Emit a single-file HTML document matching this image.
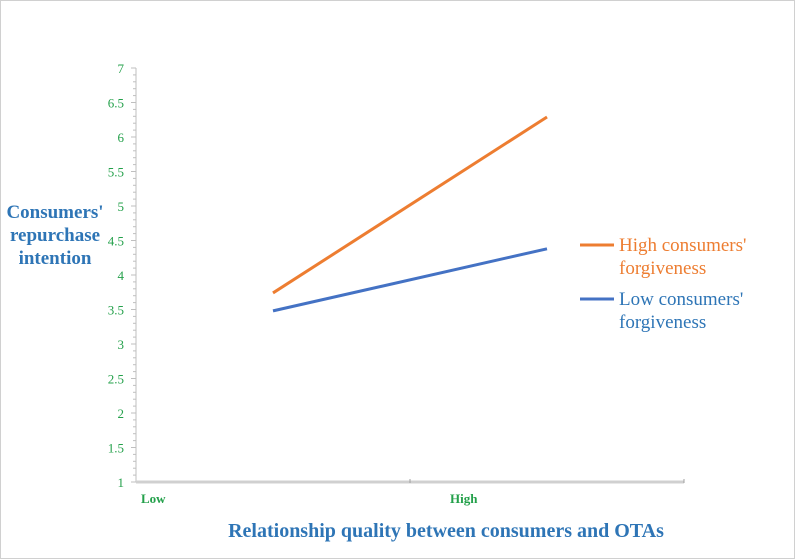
<!DOCTYPE html>
<html><head><meta charset="utf-8"><style>
html,body{margin:0;padding:0;background:#fff}
svg{display:block;font-family:"Liberation Serif",serif}
</style></head><body>
<svg width="795" height="559" viewBox="0 0 795 559">
<rect x="0.5" y="0.5" width="794" height="558" fill="#fff" stroke="#d0d0d0"/>
<g id="axes"></g>
<g id="series"></g>
<text x="55" y="218" text-anchor="middle" font-size="19" font-weight="bold" fill="#2e75b6"><tspan x="55" dy="0">Consumers'</tspan><tspan x="55" dy="23">repurchase</tspan><tspan x="55" dy="23">intention</tspan></text>
<text x="446" y="537" text-anchor="middle" font-size="20" font-weight="bold" fill="#2e75b6">Relationship quality between consumers and OTAs</text>
<g>
<line x1="580" y1="245" x2="614" y2="245" stroke="#ed7d31" stroke-width="3"/>
<text x="619" y="251" font-size="19" fill="#ed7d31"><tspan x="619">High consumers'</tspan><tspan x="619" dy="23">forgiveness</tspan></text>
<line x1="580" y1="299" x2="614" y2="299" stroke="#4472c4" stroke-width="3"/>
<text x="619" y="305" font-size="19" fill="#2e75b6"><tspan x="619">Low consumers'</tspan><tspan x="619" dy="23">forgiveness</tspan></text>
</g>
</svg>
<script>
const categories = ["Low", "High"];
const highForgiveness = [3.74, 6.29];
const lowForgiveness = [3.48, 4.38];
const yTicks = ["1","1.5","2","2.5","3","3.5","4","4.5","5","5.5","6","6.5","7"];

const NS = "http://www.w3.org/2000/svg";
const x0 = 136, x1 = 684, yTop = 68, yBot = 482, yMin = 1, yMax = 7;
function yScale(v){ return yBot - (v - yMin) / (yMax - yMin) * (yBot - yTop); }
function xScale(i){ const w = (x1 - x0) / categories.length; return x0 + w * (i + 0.5); }
function mk(tag, attrs, parent){ const e = document.createElementNS(NS, tag); for (const k in attrs) e.setAttribute(k, attrs[k]); parent.appendChild(e); return e; }

const axes = document.getElementById("axes");
const yAxis = mk("line", {x1: x0, y1: yTop, x2: x0, y2: yBot, stroke: "#bfbfbf", "stroke-width": 1}, axes);


for (let v = yMin; v <= yMax + 1e-9; v += 0.1) {
  const major = Math.abs(v * 2 - Math.round(v * 2)) < 1e-6;
  const t = mk("line", {x1: x0 - (major ? 5 : 3), y1: yScale(v), x2: x0, y2: yScale(v), stroke: "#bfbfbf", "stroke-width": 1}, axes);
  
  
}
yTicks.forEach(function(lbl){
  const tx = mk("text", {x: x0 - 12, y: yScale(parseFloat(lbl)) + 5, "text-anchor": "end", "font-size": "13", fill: "#23a04a"}, axes);
  tx.textContent = lbl;
  
  
});
const xAxis = mk("line", {x1: x0, y1: yBot, x2: x1, y2: yBot, stroke: "#d0d0d0", "stroke-width": 3}, axes);


[x0 + (x1 - x0) / 2, x1].forEach(function(px){
  const t = mk("line", {x1: px, y1: yBot - 3, x2: px, y2: yBot + 1, stroke: "#a0a0a0", "stroke-width": 1}, axes);
  
  
});
categories.forEach(function(c, i){
  const tx = mk("text", {x: x0 + 5 + i * ((x1 - x0) / 2 + 35), y: 503, "font-size": "13", "font-weight": "bold", fill: "#23a04a"}, axes);
  tx.textContent = c;
  
  
});

const series = document.getElementById("series");
function drawLine(vals, color, name){
  const pts = vals.map(function(v, i){ return xScale(i) + "," + yScale(v); }).join(" ");
  const pl = mk("polyline", {points: pts, fill: "none", stroke: color, "stroke-width": 3}, series);
  
  
}
drawLine(highForgiveness, "#ed7d31", "line-high-forgiveness");
drawLine(lowForgiveness, "#4472c4", "line-low-forgiveness");
</script>
</body></html>
